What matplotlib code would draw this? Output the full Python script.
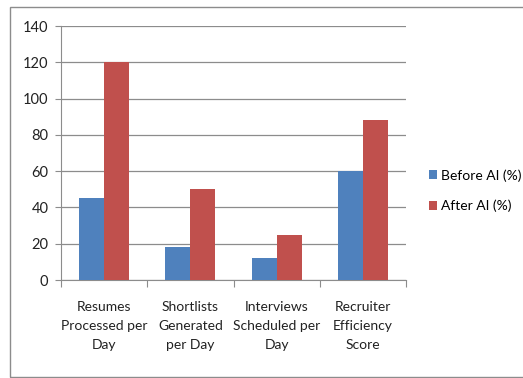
import numpy as np
import matplotlib
matplotlib.use("Agg")
import matplotlib.pyplot as plt
from matplotlib.patches import Rectangle

plt.rcParams['font.family'] = ['Lato', 'DejaVu Sans']

categories = ["Resumes\nProcessed per\nDay", "Shortlists\nGenerated\nper Day",
              "Interviews\nScheduled per\nDay", "Recruiter\nEfficiency\nScore"]
before_ai = [45, 18, 12, 60]
after_ai = [120, 50, 25, 88]
series_names = ["Before AI (%)", "After AI (%)"]
yticks = [0, 20, 40, 60, 80, 100, 120, 140]

W, H = 523, 378
fig = plt.figure(figsize=(W / 100, H / 100), dpi=100)

# outer chart frame (runs past the right edge)
fig.patches.append(Rectangle((10 / W, 1 - 377 / H), 520 / W, 370 / H,
                             transform=fig.transFigure, fill=False,
                             edgecolor='#8c8c8c', linewidth=1.0))

ax = fig.add_axes([61 / W, 1 - 280 / H, 345 / W, 254 / H])

x = np.arange(len(categories))
bw = 0.29
ax.bar(x - bw / 2, before_ai, bw, color='#4F81BD', label=series_names[0], zorder=3)
ax.bar(x + bw / 2, after_ai, bw, color='#C0504D', label=series_names[1], zorder=3)

ax.set_xlim(-0.5, len(categories) - 0.5)
ax.set_ylim(0, 140)
ax.set_yticks(yticks)
ax.yaxis.grid(True, color='#8c8c8c', linewidth=0.9, zorder=0)

ax.set_xticks(np.arange(len(categories) + 1) - 0.5)
ax.set_xticklabels([])
ax.set_xticks(x, minor=True)
ax.set_xticklabels(categories, minor=True, fontsize=10, color='#222222', linespacing=1.7)
ax.tick_params(axis='x', which='major', length=5, color='#8c8c8c', direction='out')
ax.tick_params(axis='x', which='minor', length=0, pad=15)
ax.tick_params(axis='y', length=4, color='#8c8c8c', labelsize=10.5, labelcolor='#222222', pad=5)

for side in ['top', 'right']:
    ax.spines[side].set_visible(False)
ax.spines['left'].set_color('#8c8c8c')
ax.spines['bottom'].set_color('#8c8c8c')

fig.legend(loc='upper left', bbox_to_anchor=(429 / W, 1 - 169 / H), frameon=False,
           fontsize=10, handlelength=0.55, handleheight=0.6, handletextpad=0.3,
           labelspacing=1.3, borderaxespad=0, borderpad=0)

fig.savefig("out.png", dpi=100)
